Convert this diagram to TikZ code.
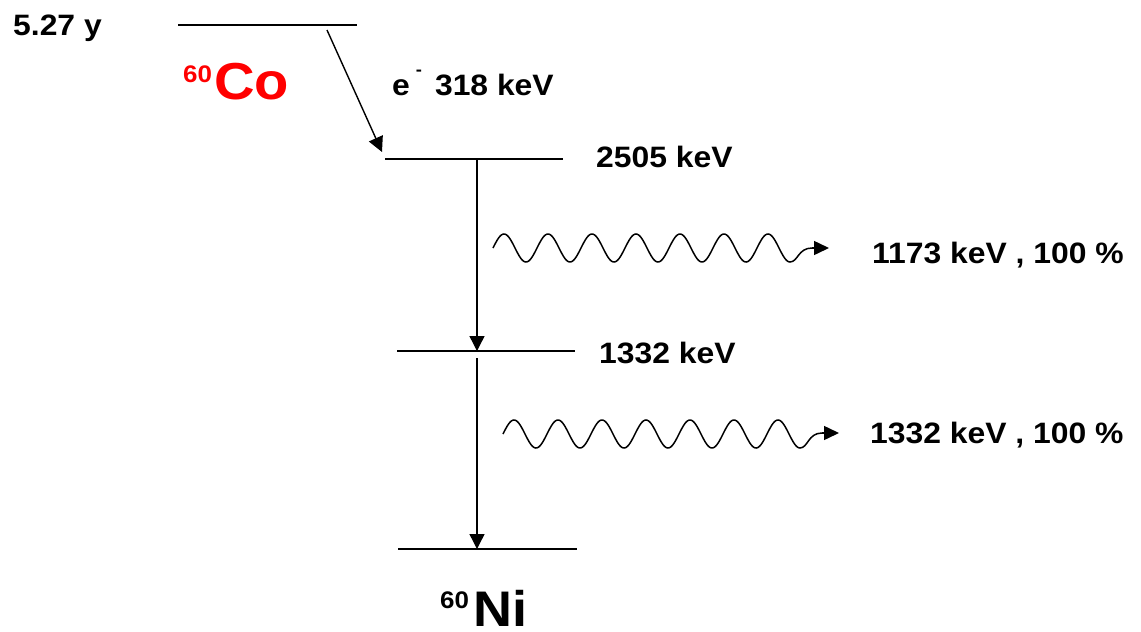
\documentclass[tikz,border=0pt]{standalone}
\usepackage{fontspec}
\setmainfont{Liberation Sans}[FakeStretch=1.08]
\usetikzlibrary{arrows.meta}
\definecolor{cored}{RGB}{255,0,0}
\begin{document}
\begin{tikzpicture}[x=1pt,y=-1pt,
  level/.style={line width=1.8pt},
  trans/.style={line width=1.4pt,-{Triangle[length=15pt,width=15pt]}},
  wavy/.style={line width=1.5pt},
  lbl/.style={anchor=base west,inner sep=0pt,font=\fontsize{29.5pt}{30pt}\selectfont\bfseries},
  big/.style={anchor=base west,inner sep=0pt,text depth=0pt,font=\bfseries}]
\useasboundingbox (0,0) rectangle (1141,632);
% level end points
\coordinate (co-l) at (178,25);  \coordinate (co-r) at (357,25);
\coordinate (e1-l) at (385,159); \coordinate (e1-r) at (563,159);
\coordinate (e2-l) at (397,351); \coordinate (e2-r) at (575,351);
\coordinate (g-l)  at (398,549); \coordinate (g-r)  at (577,549);
\draw[level] (co-l) -- (co-r);
\draw[level] (e1-l) -- (e1-r);
\draw[level] (e2-l) -- (e2-r);
\draw[level] (g-l) -- (g-r);
% transitions
\coordinate (b-start) at (327,30);
\coordinate (b-end) at (382,152);
\draw[trans] (b-start) -- (b-end);
\coordinate (t1-s) at (477,160);
\coordinate (t1-e) at (477,351);
\draw[trans] (t1-s) -- (t1-e);
\coordinate (t2-s) at (477,358);
\coordinate (t2-e) at (477,549);
\draw[trans] (t2-s) -- (t2-e);
% gamma waves
\coordinate (w1-end) at (829,248);
\draw[wavy] plot[domain=0:6.75,samples=300,smooth] ({493+44*\x},{248-14*sin(360*\x)})
  .. controls (798,262) and (798,248) .. (812,248);
\draw[wavy,-{Triangle[length=15pt,width=14pt]}] (812,248) -- (w1-end);
\coordinate (w2-end) at (839,433);
\draw[wavy] plot[domain=0:6.75,samples=300,smooth] ({503+44*\x},{434-14*sin(360*\x)})
  .. controls (808,448) and (808,433) .. (822,433);
\draw[wavy,-{Triangle[length=15pt,width=14pt]}] (822,433) -- (w2-end);
% labels
\node[lbl] (half) at (13,35) {5.27 y};
\node[big,text=cored] (co) at (183,99) {\fontsize{24pt}{24pt}\selectfont\raisebox{17pt}{60}\hspace{2pt}\fontsize{52pt}{52pt}\selectfont Co};
\node[lbl] (beta) at (392,95) {e\hspace{6pt}\raisebox{20pt}{\fontsize{17pt}{17pt}\selectfont -}\hspace{13pt}318 keV};
\node[lbl] (l1) at (596,167) {2505 keV};
\node[lbl] (l2) at (599,363) {1332 keV};
\node[lbl] (g1) at (872,263) {1173 keV , 100 \%};
\node[lbl] (g2) at (870,443) {1332 keV , 100 \%};
\node[big] (ni) at (440,626) {\fontsize{24pt}{24pt}\selectfont\raisebox{18pt}{60}\hspace{4pt}\fontsize{50pt}{50pt}\selectfont Ni};
\end{tikzpicture}
\end{document}
